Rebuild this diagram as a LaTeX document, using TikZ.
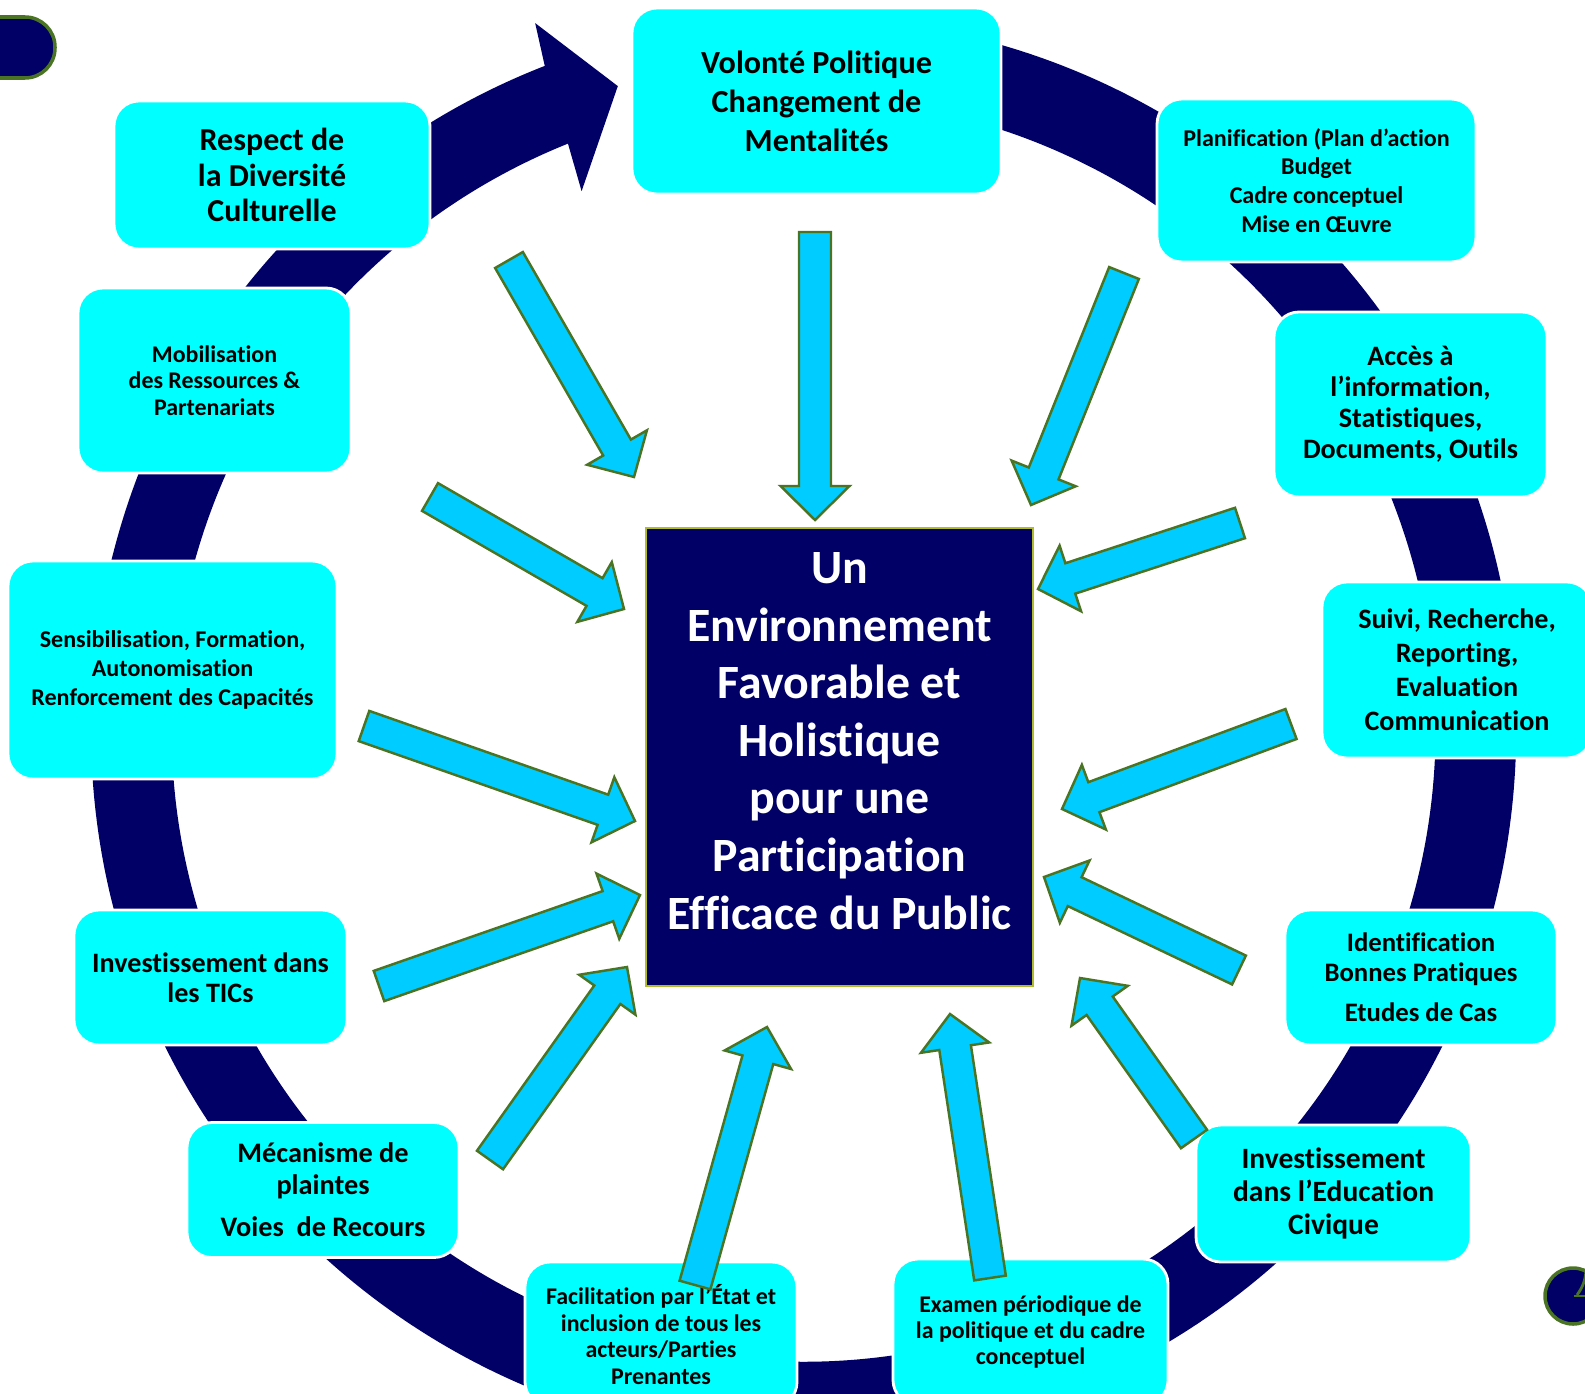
\documentclass[tikz,border=0pt]{standalone}
\usepackage{fontspec}
\setmainfont{Carlito}[Ligatures={NoCommon}]
\usetikzlibrary{calc}

\definecolor{navy}{RGB}{0,0,102}
\definecolor{boxcyan}{HTML}{00FFFF}
\definecolor{arrowblue}{HTML}{00CCFF}
\definecolor{leafgreen}{HTML}{4A7423}
\definecolor{hubline}{HTML}{B0BC2C}

\newcommand{\sz}[2]{\fontsize{#1}{#2}\selectfont\bfseries}

% block arrow from tail #1 to tip #2
\newcommand{\feedarrow}[2]{%
  \coordinate (hb) at ($(#2)!0.34cm!(#1)$);
  \filldraw[feed] ($(#1)!0.16cm!90:(#2)$) -- ($(hb)!0.16cm!90:(#2)$)
    -- ($(hb)!0.345cm!90:(#2)$) -- (#2) -- ($(hb)!0.345cm!-90:(#2)$)
    -- ($(hb)!0.16cm!-90:(#2)$) -- ($(#1)!0.16cm!-90:(#2)$) -- cycle;
}

\tikzset{
  topic/.style={rectangle, rounded corners=0.25cm, fill=boxcyan, draw=white,
    line width=0.8pt, align=center, inner sep=0pt},
  feed/.style={fill=arrowblue, draw=leafgreen, line width=0.7pt},
}

\begin{document}
\begin{tikzpicture}
	\useasboundingbox (0,0) rectangle (15.85,13.93);
	
	% buttons at the corners
	\filldraw[fill=navy, draw=leafgreen, line width=1pt, rounded corners=0.3cm] (-0.5,13.76) rectangle (0.55,13.15);
	\filldraw[fill=navy, draw=leafgreen, line width=1pt] (15.73,0.97) circle (0.28);
	\draw[leafgreen, line width=0.8pt] (15.74,0.97) -- (15.86,0.97);
	\draw[leafgreen, line width=0.8pt] (15.77,0.98) to[bend right=15] (15.86,1.22);
	
	% the cycle
	\coordinate (C) at (8.036,6.632);
	\begin{scope}[shift={(C)}]
		\fill[navy] (90:7.126) arc[start angle=90, end angle=-248.7, radius=7.126]
			-- (110.8:7.56) -- (106.1:6.70) -- (112.4:5.826) -- (111.9:6.318)
			arc[start angle=-248.1, end angle=90, radius=6.318] -- cycle;
	\end{scope}
	
	\node[topic, minimum width=3.69cm, minimum height=1.86cm, font=\sz{9.15}{11.1}] (vol) at (8.165,12.92)
		{Volonté Politique\\Changement de\\Mentalités};
	\node[topic, minimum width=3.16cm, minimum height=1.48cm, font=\sz{9.1}{10.1}] (resp) at (2.72,12.18)
		{Respect de\\la Diversité\\Culturelle};
	\node[topic, minimum width=3.19cm, minimum height=1.63cm, font=\sz{6.85}{8.2}] (plan) at (13.165,12.125)
		{Planification (Plan d’action\\Budget\\Cadre conceptuel\\Mise en Œuvre};
	\node[topic, minimum width=2.73cm, minimum height=1.85cm, font=\sz{6.8}{7.6}] (mob) at (2.145,10.125)
		{Mobilisation\\des Ressources \&\\Partenariats};
	\node[topic, minimum width=2.73cm, minimum height=1.85cm, font=\sz{8}{8.85}] (acces) at (14.105,9.885)
		{Accès à\\l’information,\\Statistiques,\\Documents, Outils};
	\node[topic, minimum width=3.29cm, minimum height=2.18cm, font=\sz{6.85}{8.2}] (sens) at (1.725,7.23)
		{Sensibilisation, Formation,\\Autonomisation\\Renforcement des Capacités};
	\node[topic, minimum width=2.70cm, minimum height=1.76cm, font=\sz{8}{9.7}] (suivi) at (14.57,7.23)
		{Suivi, Recherche,\\Reporting,\\Evaluation\\Communication};
	\node[topic, minimum width=2.73cm, minimum height=1.35cm, font=\sz{8}{8.4}] (tics) at (2.105,4.155)
		{Investissement dans\\les TICs};
	\node[topic, minimum width=2.72cm, minimum height=1.35cm, font=\sz{7.6}{8.5}] (ident) at (14.21,4.155)
		{Identification\\Bonnes Pratiques\\[3pt]Etudes de Cas};
	\node[topic, minimum width=2.72cm, minimum height=1.35cm, font=\sz{8.05}{9}] (mec) at (3.23,2.03)
		{Mécanisme de\\plaintes\\[3pt]Voies~~de Recours};
	\node[topic, minimum width=2.75cm, minimum height=1.37cm, font=\sz{8.4}{9.35}] (educ) at (13.335,1.995)
		{Investissement\\dans l’Education\\Civique};
	\node[topic, minimum width=2.72cm, minimum height=1.45cm, font=\sz{6.8}{7.5}] (facil) at (6.61,0.585)
		{Facilitation par l’État et\\inclusion de tous les\\acteurs/Parties\\Prenantes};
	\node[topic, minimum width=2.75cm, minimum height=1.46cm, font=\sz{6.8}{7.5}] (exam) at (10.305,0.61)
		{Examen périodique de\\la politique et du cadre\\conceptuel};
	
	% the hub
	\node[fill=navy, draw=hubline, line width=0.5pt, minimum width=3.87cm, minimum height=4.58cm] (hub) at (8.395,6.36) {};
	\node[white, align=center, font=\sz{13.6}{16.4}] at ([yshift=1.6mm]hub.center)
		{Un\\Environnement\\Favorable et\\Holistique\\pour une\\Participation\\Efficace du Public};
	
	% arrows into the hub
	\coordinate (t1) at (5.09,11.33);  \coordinate (h1) at (6.34,9.16);
	\coordinate (t2) at (8.15,11.61);  \coordinate (h2) at (8.15,8.73);
	\coordinate (t3) at (11.24,11.20); \coordinate (h3) at (10.31,8.88);
	\coordinate (t4) at (12.40,8.70);  \coordinate (h4) at (10.38,8.04);
	\coordinate (t5) at (12.91,6.69);  \coordinate (h5) at (10.62,5.84);
	\coordinate (t6) at (12.39,4.23);  \coordinate (h6) at (10.44,5.16);
	\coordinate (t7) at (11.94,2.54);  \coordinate (h7) at (10.80,4.15);
	\coordinate (t8) at (9.90,1.15);   \coordinate (h8) at (9.50,3.79);
	\coordinate (t9) at (6.95,1.08);   \coordinate (h9) at (7.67,3.66);
	\coordinate (t10) at (4.90,2.33);  \coordinate (h10) at (6.27,4.26);
	\coordinate (t11) at (3.79,4.07);  \coordinate (h11) at (6.40,4.98);
	\coordinate (t12) at (3.64,6.67);  \coordinate (h12) at (6.35,5.72);
	\coordinate (t13) at (4.30,8.96);  \coordinate (h13) at (6.24,7.84);
	\foreach \i in {1,...,13}
		\feedarrow{t\i}{h\i};
\end{tikzpicture}
\end{document}
